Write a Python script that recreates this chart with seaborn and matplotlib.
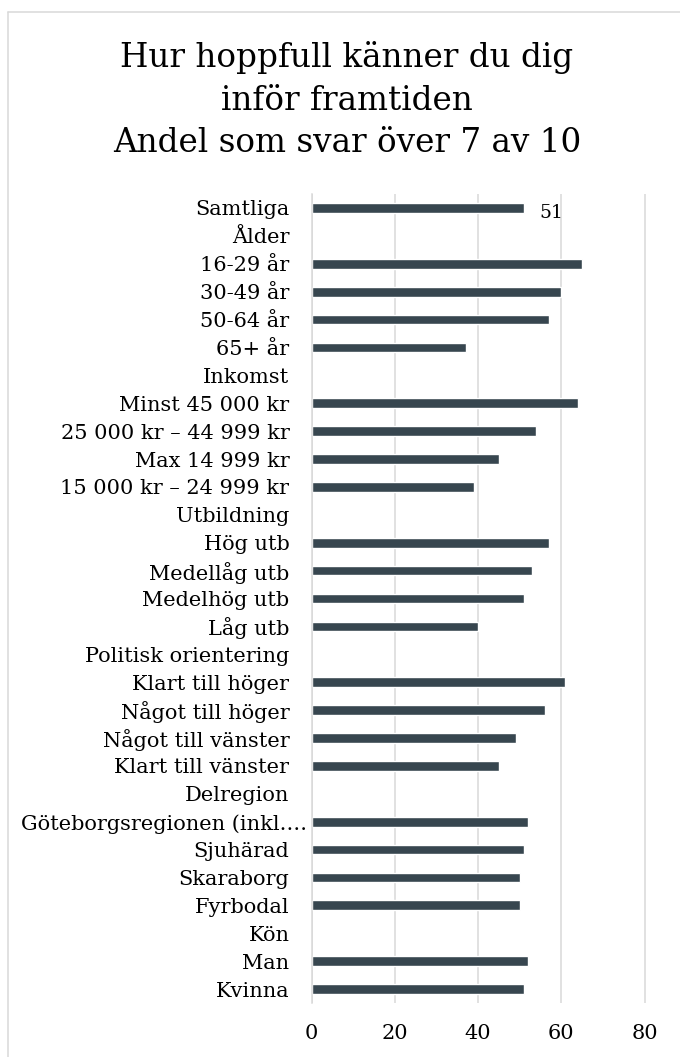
import matplotlib
matplotlib.use("Agg")
import matplotlib.pyplot as plt
import matplotlib.transforms as mtransforms
import seaborn as sns
import pandas as pd
import numpy as np
from matplotlib.lines import Line2D

labels = ["Samtliga", "Ålder", "16-29 år", "30-49 år", "50-64 år", "65+ år",
          "Inkomst", "Minst 45 000 kr", "25 000 kr – 44 999 kr", "Max 14 999 kr",
          "15 000 kr – 24 999 kr", "Utbildning", "Hög utb", "Medellåg utb",
          "Medelhög utb", "Låg utb", "Politisk orientering", "Klart till höger",
          "Något till höger", "Något till vänster", "Klart till vänster",
          "Delregion", "Göteborgsregionen (inkl.…", "Sjuhärad", "Skaraborg",
          "Fyrbodal", "Kön", "Man", "Kvinna"]
values = [51, np.nan, 65, 60, 57, 37,
          np.nan, 64, 54, 45, 39,
          np.nan, 57, 53, 51, 40,
          np.nan, 61, 56, 49, 45,
          np.nan, 52, 51, 50, 50,
          np.nan, 52, 51]
title_lines = ["Hur hoppfull känner du dig", "inför framtiden", "Andel som svar över 7 av 10"]
xticks = [0, 20, 40, 60, 80]

sns.set_theme(style="white")
plt.rcParams['font.family'] = ['DejaVu Serif']

W, H = 680, 1057
fig = plt.figure(figsize=(W / 100, H / 100), dpi=100)
ax = fig.add_axes([311.7 / W, 1 - 1003 / H, 353.6 / W, (1003 - 194) / H])

df = pd.DataFrame({"label": labels, "value": values})
sns.barplot(data=df, x="value", y="label", order=labels, color="#37464f",
            width=0.35, saturation=1, ax=ax, errorbar=None)

ax.set_xlim(0, 85)
ax.set_xticks(xticks)
ax.set_xticklabels([str(t) for t in xticks])
ax.set_xlabel("")
ax.set_ylabel("")
ax.grid(axis="x", color="#d9d9d9", linewidth=1.1)
ax.set_axisbelow(True)
for s in ["top", "right", "bottom"]:
    ax.spines[s].set_visible(False)
ax.spines["left"].set_color("#d9d9d9")
ax.spines["left"].set_linewidth(1.1)
ax.tick_params(axis="y", length=0, pad=16, labelsize=15, labelcolor="black")
ax.tick_params(axis="x", length=0, pad=15, labelsize=15, labelcolor="black")

# the truncated long label overflows to the right as in the original
for lbl in ax.get_yticklabels():
    if lbl.get_text().endswith("…"):
        lbl.set_text(lbl.get_text() + ".")
        lbl.set_transform(lbl.get_transform() +
                          mtransforms.ScaledTranslation(18 / 100, 0, fig.dpi_scale_trans))

# data label for first bar
ax.annotate(f"{values[0]:g}", xy=(values[0], 0), xytext=(11, -3.6),
            textcoords="offset points", ha="left", va="center",
            fontsize=13.5, color="black")

# titles
ys = [67, 110, 152]
for t, y in zip(title_lines, ys):
    fig.text(347 / W, 1 - y / H, t, ha="center", va="baseline", fontsize=23.5, color="black")

# chart border (cropped)
fig.add_artist(Line2D([7.5 / W, 7.5 / W], [0, 1 - 11.5 / H], transform=fig.transFigure,
                      color="#d9d9d9", linewidth=1.1))
fig.add_artist(Line2D([7.5 / W, 1], [1 - 11.5 / H, 1 - 11.5 / H], transform=fig.transFigure,
                      color="#d9d9d9", linewidth=1.1))

fig.savefig("out.png", dpi=100)
